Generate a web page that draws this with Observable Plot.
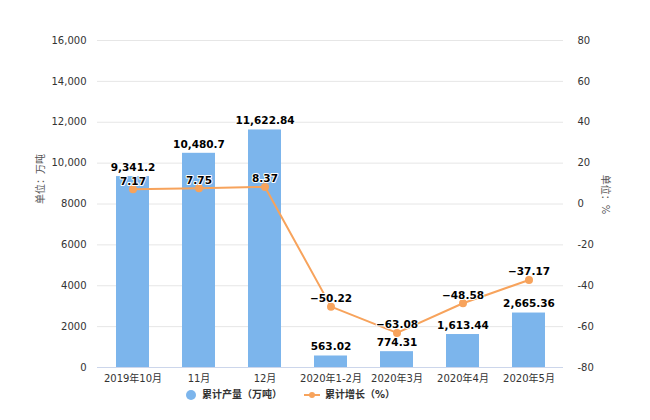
<!DOCTYPE html>
<html><head><meta charset="utf-8">
<script src="https://cdn.jsdelivr.net/npm/d3@7"></script>
<script src="https://cdn.jsdelivr.net/npm/@observablehq/plot@0.6"></script>
<style>
body{margin:0;background:#fff;font-family:"DejaVu Sans","Noto Sans CJK SC",sans-serif;}
#chart svg{display:block;}
#legend{display:flex;justify-content:center;gap:22px;font-size:10px;line-height:12px;color:#333;font-weight:bold;margin-left:-70px;margin-top:0px;}
.item{display:flex;align-items:center;gap:5px;}
.item svg{display:block;}
</style></head>
<body><div id="chart"></div>
<div id="legend">
<div class="item"><svg width="12" height="12"><circle cx="6" cy="6" r="5" fill="#7cb5ec"/></svg><span>累计产量（万吨）</span></div>
<div class="item"><svg width="16" height="12"><line x1="0" x2="16" y1="6" y2="6" stroke="#f7a35c" stroke-width="2"/><circle cx="8" cy="6" r="3" fill="#f7a35c"/></svg><span>累计增长（%）</span></div>
</div>
<script>
const months = ["2019年10月","11月","12月","2020年1-2月","2020年3月","2020年4月","2020年5月"];
const output = [9341.2,10480.7,11622.84,563.02,774.31,1613.44,2665.36];
const outputLabels = ["9,341.2","10,480.7","11,622.84","563.02","774.31","1,613.44","2,665.36"];
const growth = [7.17,7.75,8.37,-50.22,-63.08,-48.58,-37.17];
const growthLabels = ["7.17","7.75","8.37","−50.22","−63.08","−48.58","−37.17"];
const leftTicks = [0,2000,4000,6000,8000,10000,12000,14000,16000];
const leftTickLabels = ["0","2000","4000","6000","8000","10,000","12,000","14,000","16,000"];
const rightTicks = [-80,-60,-40,-20,0,20,40,60,80];
const rightTickLabels = ["-80","-60","-40","-20","0","20","40","60","80"];

const toLeft = p => (p + 80) * 100;
const rows = months.map((m,i)=>({m, v: output[i], vl: outputLabels[i], g: toLeft(growth[i]), gl: growthLabels[i]}));
const rightRows = rightTicks.map((t,i)=>({y: toLeft(t), l: rightTickLabels[i]}));

const chart = Plot.plot({
  width: 650, height: 389,
  marginLeft: 97, marginRight: 87, marginTop: 40, marginBottom: 22,
  style: {fontFamily: '"DejaVu Sans","Noto Sans CJK SC",sans-serif', fontSize: "10px", color: "#333"},
  x: {domain: months, paddingInner: 0.5, paddingOuter: 0.25, axis: null},
  y: {domain: [0,16000], axis: null},
  marks: [
    Plot.ruleY(leftTicks.slice(1), {stroke: "#e6e6e6", strokeWidth: 1}),
    Plot.barY(rows, {x: "m", y: "v", fill: "#7cb5ec"}),
    Plot.ruleY([0], {stroke: "#ccd6eb"}),
    Plot.text(months, {x: d => d, frameAnchor: "bottom", lineAnchor: "top", dy: 7, fontSize: 10, fill: "#333"}),
    Plot.axisY({ticks: leftTicks, tickFormat: (d)=>leftTickLabels[leftTicks.indexOf(d)], tickSize: 0, tickPadding: 11, fontSize: 10, fill: "#333", label: null}),
    Plot.text(rightRows, {frameAnchor: "right", y: "y", text: "l", dx: 14, textAnchor: "start", fontSize: 10, fill: "#333"}),
    Plot.text(["单位：万吨"], {frameAnchor: "left", y: 8000, dx: -57, rotate: -90, fontSize: 10, fill: "#555"}),
    Plot.text(["单位：%"], {frameAnchor: "right", y: 7500, dx: 42, rotate: 90, fontSize: 10, fill: "#555"}),
    Plot.text(rows, {x: "m", y: "v", text: "vl", dy: -9, fontWeight: "bold", fontSize: 10.5, fill: "#000", stroke: "#fff", strokeWidth: 2, paintOrder: "stroke"}),
    Plot.line(rows, {x: "m", y: "g", stroke: "#f7a35c", strokeWidth: 2}),
    Plot.dot(rows, {x: "m", y: "g", r: 4, fill: "#f7a35c"}),
    Plot.text(rows, {x: "m", y: "g", text: "gl", dy: -8, fontWeight: "bold", fontSize: 10.5, fill: "#000", stroke: "#fff", strokeWidth: 2, paintOrder: "stroke"})
  ]
});
document.getElementById("chart").appendChild(chart);
</script></body></html>
